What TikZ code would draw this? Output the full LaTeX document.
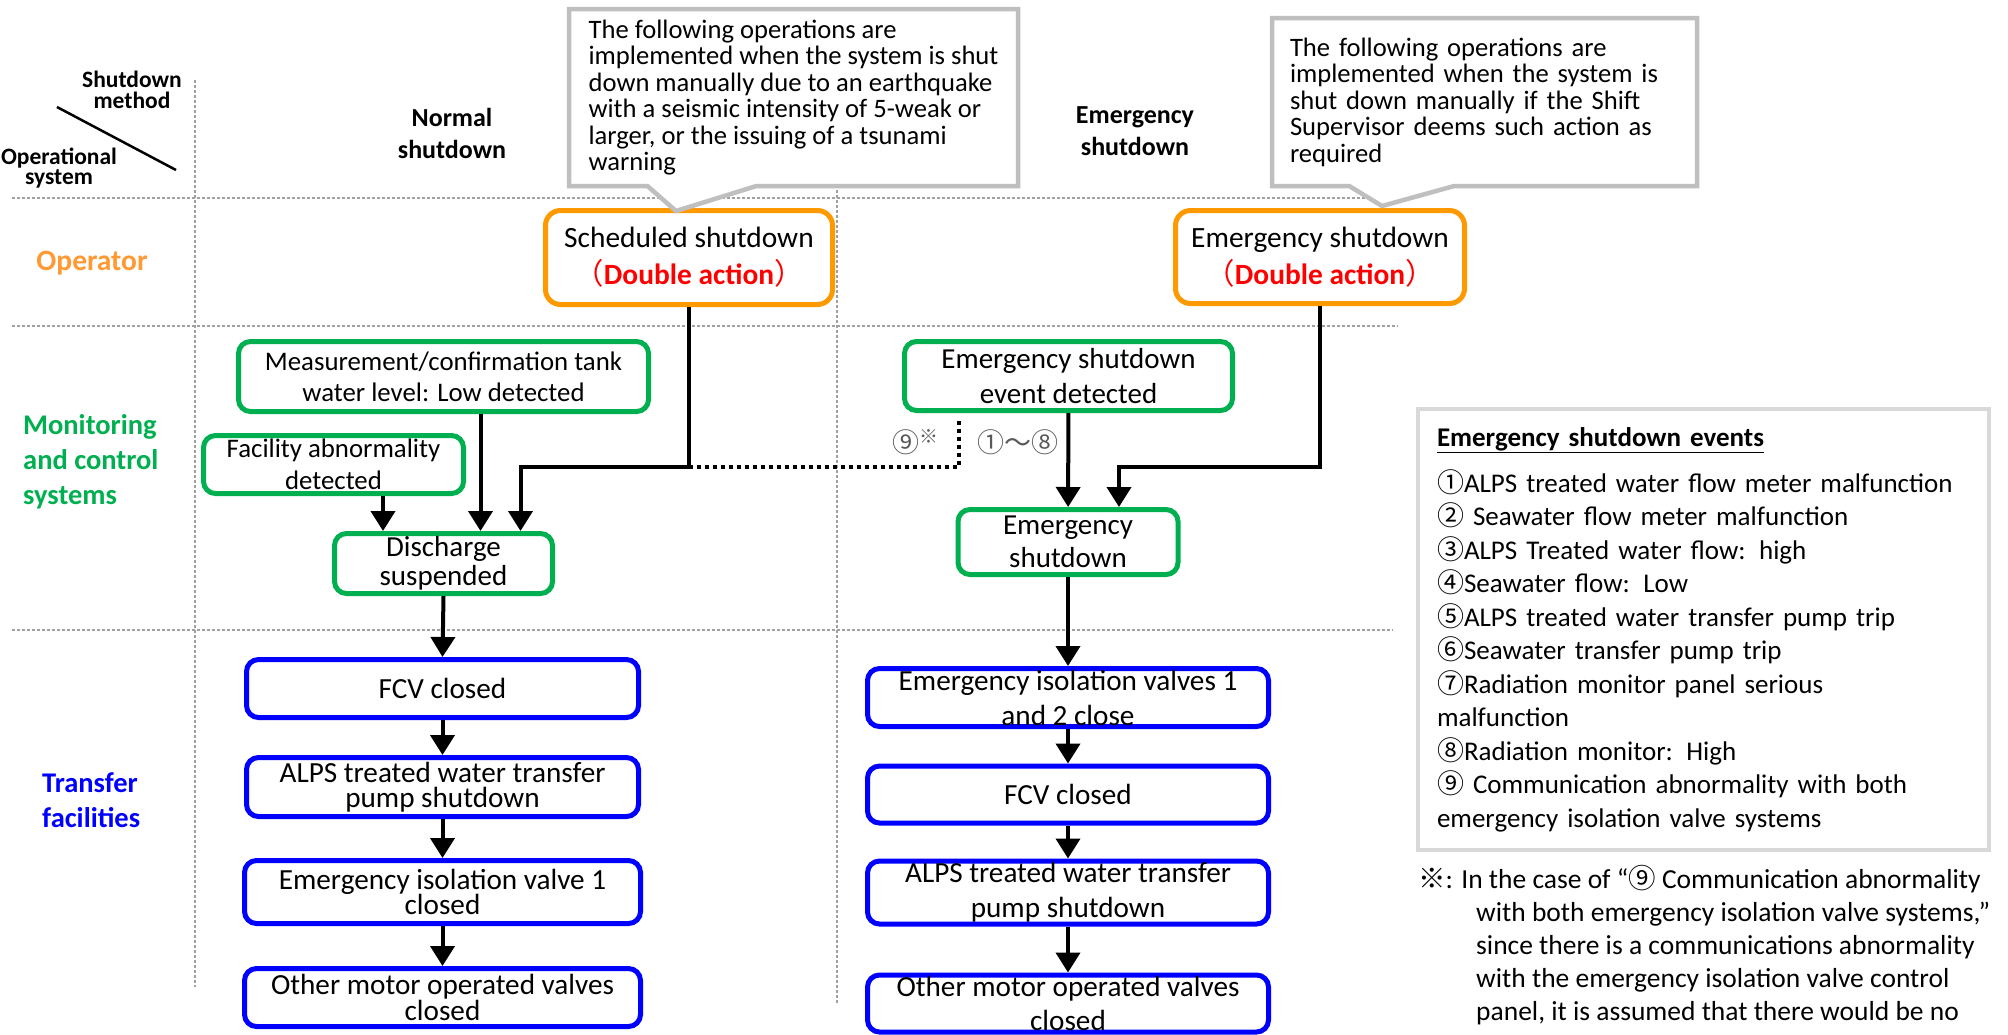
\documentclass[tikz,border=0pt]{standalone}
\usepackage{fontspec}
\setmainfont{Carlito}
\newfontfamily\cjk{Noto Sans CJK JP}
\usepackage{tikz}
\usetikzlibrary{shapes.geometric, shapes.callouts, arrows.meta, calc}

\definecolor{opOrange}{RGB}{255,153,0}
\definecolor{opText}{RGB}{255,153,51}
\definecolor{mcGreen}{RGB}{0,176,80}
\definecolor{tfBlue}{RGB}{0,0,255}
\definecolor{noteGray}{RGB}{191,191,191}
\definecolor{boxGray}{RGB}{217,217,217}
\definecolor{gridGray}{RGB}{160,160,160}

\begin{document}
\begin{tikzpicture}[x=1pt, y=-1pt, node distance=100pt]
\tikzstyle{obox} = [rectangle, rounded corners=15pt, draw=opOrange, line width=5pt, fill=white, align=center, inner sep=0pt, font=\fontsize{29.4}{37}\selectfont]
\tikzstyle{mbox} = [rectangle, rounded corners=12pt, draw=mcGreen, line width=5pt, fill=white, align=center, inner sep=0pt, font=\fontsize{26.8}{31}\selectfont]
\tikzstyle{tbox} = [rectangle, rounded corners=12pt, draw=tfBlue, line width=5pt, fill=white, align=center, inner sep=0pt, font=\fontsize{29.2}{25.5}\selectfont]
\tikzstyle{tboxR} = [tbox, font=\fontsize{29.2}{35}\selectfont]
\tikzstyle{head} = [align=center, font=\bfseries\fontsize{26}{32}\selectfont]
\tikzstyle{corner} = [align=center, inner sep=0pt, font=\bfseries\fontsize{23.5}{20.5}\selectfont]
\tikzstyle{rowlabel} = [align=left, inner sep=0pt, font=\bfseries\fontsize{28.5}{35}\selectfont]
\tikzstyle{gridline} = [draw=gridGray, line width=1.5pt, dash pattern=on 3pt off 2pt]
\tikzstyle{note} = [rectangle callout, draw=noteGray, line width=4.5pt, fill=white, align=left, inner ysep=0pt, font=\fontsize{26.6}{26.5}\selectfont]
\tikzstyle{arrow} = [line width=4pt, -{Triangle[length=20pt,width=24pt]}]
\tikzstyle{dotline} = [line width=4pt, dash pattern=on 4pt off 4pt]

\useasboundingbox (0,0) rectangle (2008,1034);

% table lines
\draw [gridline] (195,80) -- (195,987);
\draw [gridline] (837,190) -- (837,1003);
\draw [gridline] (12,198) -- (1396,198);
\draw [gridline] (12,326) -- (1398,326);
\draw [gridline] (12,630) -- (1393,630);

% headings
\node (hmethod) [corner] at (132,90) {Shutdown\\method};
\node (hsystem) [corner] at (59,168) {Operational\\system};
\draw [line width=2.5pt] (57,107) -- (176,170);
\node (hnormal) [head] at (452,133) {Normal\\shutdown};
\node (hemerg) [head] at (1135,131) {Emergency\\shutdown};

\node (lop) [rowlabel, text=opText, font=\bfseries\fontsize{29.5}{35}\selectfont] at (92,263) {Operator};
\node (lmc) [rowlabel, text=mcGreen, anchor=west] at (23,462) {Monitoring\\and control\\systems};
\node (ltf) [rowlabel, text=tfBlue, anchor=west] at (42,800) {Transfer\\facilities};

% operator
\node (sched) [obox, minimum width=287pt, minimum height=94pt] at (689,257.5) {Scheduled shutdown\\\textcolor{red}{{\cjk （}\textbf{Double action}{\cjk ）}}};
\node (emerg) [obox, minimum width=289pt, minimum height=93pt] at (1320,257) {Emergency shutdown\\\textcolor{red}{{\cjk （}\textbf{Double action}{\cjk ）}}};

\node (note1) [note, minimum width=449pt, minimum height=177pt, inner xsep=0pt, callout absolute pointer={(676,211)}, callout pointer width=109pt] at (793.5,97.5) {The following operations are\\implemented when the system is shut\\down manually due to an earthquake\\with a seismic intensity of 5-weak or\\larger, or the issuing of a tsunami\\warning};
\node (note2) [note, minimum width=425pt, minimum height=168pt, inner xsep=18pt, text width=389pt, callout absolute pointer={(1382,206)}, callout pointer width=105pt] at (1484.5,102) {The following operations are\\implemented when the system is\\shut down manually if the Shift\\Supervisor deems such action as\\required};

% monitoring and control
\node (meas) [mbox, minimum width=410pt, minimum height=70pt] at (443.5,376.5) {Measurement/confirmation tank\\water level: Low detected};
\node (facility) [mbox, minimum width=260pt, minimum height=58pt, font=\fontsize{26.8}{32}\selectfont] at (333.5,464.5) {Facility abnormality\\detected};
\node (discharge) [mbox, minimum width=218pt, minimum height=60pt, font=\fontsize{29}{28.5}\selectfont] at (443.5,563.5) {Discharge\\suspended};
\node (event) [mbox, minimum width=328pt, minimum height=69pt, font=\fontsize{29}{35}\selectfont] at (1068.5,376) {Emergency shutdown\\event detected};
\node (emsd) [mbox, minimum width=220pt, minimum height=65pt, font=\fontsize{29}{33}\selectfont] at (1068,542) {Emergency\\shutdown};

\node (n9) [text=black!65, font=\fontsize{27}{27}\selectfont] at (916,442) {{\cjk ⑨}\textsuperscript{\cjk ※}};
\node (n18) [text=black!65, font=\fontsize{27}{27}\selectfont] at (1018,442) {\cjk ①～⑧};

% transfer facilities
\node (fcvL) [tbox, minimum width=392pt, minimum height=58pt] at (442.5,688.5) {FCV closed};
\node (alpsL) [tbox, minimum width=392pt, minimum height=59pt, node distance=98.5pt, below of=fcvL] {ALPS treated water transfer\\pump shutdown};
\node (eivL) [tbox, minimum width=396pt, minimum height=63pt, node distance=105pt, below of=alpsL] {Emergency isolation valve 1\\closed};
\node (othL) [tbox, minimum width=396pt, minimum height=58pt, node distance=105.5pt, below of=eivL] {Other motor operated valves\\closed};

\node (eivR) [tboxR, minimum width=401pt, minimum height=58pt] at (1068,697.5) {Emergency isolation valves 1\\and 2 close};
\node (fcvR) [tboxR, minimum width=401pt, minimum height=57pt, node distance=97pt, below of=eivR] {FCV closed};
\node (alpsR) [tboxR, minimum width=401pt, minimum height=63pt, node distance=98pt, below of=fcvR] {ALPS treated water transfer\\pump shutdown};
\node (othR) [tboxR, minimum width=401pt, minimum height=57pt, node distance=111pt, below of=alpsR, font=\fontsize{29.2}{34}\selectfont] {Other motor operated valves\\closed};

% events list and footnote
\node (events) [rectangle, draw=boxGray, line width=4.5pt, minimum width=571pt, minimum height=441pt, text width=533pt, align=left, inner sep=0pt, font=\fontsize{27}{33.5}\selectfont] at (1703.5,629.5) {{\bfseries\underline{Emergency shutdown events}}\\[12.5pt]
{\cjk ①}ALPS treated water flow meter malfunction\\
{\cjk ②} Seawater flow meter malfunction\\
{\cjk ③}ALPS Treated water flow: high\\
{\cjk ④}Seawater flow: Low\\
{\cjk ⑤}ALPS treated water transfer pump trip\\
{\cjk ⑥}Seawater transfer pump trip\\
{\cjk ⑦}Radiation monitor panel serious\\
malfunction\\
{\cjk ⑧}Radiation monitor: High\\
{\cjk ⑨} Communication abnormality with both\\
emergency isolation valve systems};

\node (footnote) [anchor=west, align=left, inner sep=0pt, font=\fontsize{27.5}{33}\selectfont] at (1418,945) {{\cjk ※}: In the case of “{\cjk ⑨} Communication abnormality\\
\hspace*{58pt}with both emergency isolation valve systems,”\\
\hspace*{58pt}since there is a communications abnormality\\
\hspace*{58pt}with the emergency isolation valve control\\
\hspace*{58pt}panel, it is assumed that there would be no};

% connectors
\coordinate (jL) at (689,467);
\coordinate (jR) at (1320,467);
\coordinate (dotEnd) at (959,420);

\draw [dotline] (jL) -| (dotEnd);
\draw [arrow] (sched.south) -- (jL) -| ($(discharge.north)+(77,0)$);
\draw [arrow] ($(meas.south)+(37,0)$) -- ($(discharge.north)+(37,0)$);
\draw [arrow] ($(facility.south)+(49.5,0)$) -- ($(discharge.north)+(-60.5,0)$);
\draw [arrow] (discharge.south) -- (fcvL.north);
\draw [arrow] (fcvL) -- (alpsL);
\draw [arrow] (alpsL) -- (eivL);
\draw [arrow] (eivL) -- (othL);

\draw [arrow] (event) -- (emsd);
\draw [arrow] (emerg.south) -- (jR) -| ($(emsd.north)+(51,0)$);
\draw [arrow] (emsd) -- (eivR);
\draw [arrow] (eivR) -- (fcvR);
\draw [arrow] (fcvR) -- (alpsR);
\draw [arrow] (alpsR) -- (othR);
\end{tikzpicture}
\end{document}
